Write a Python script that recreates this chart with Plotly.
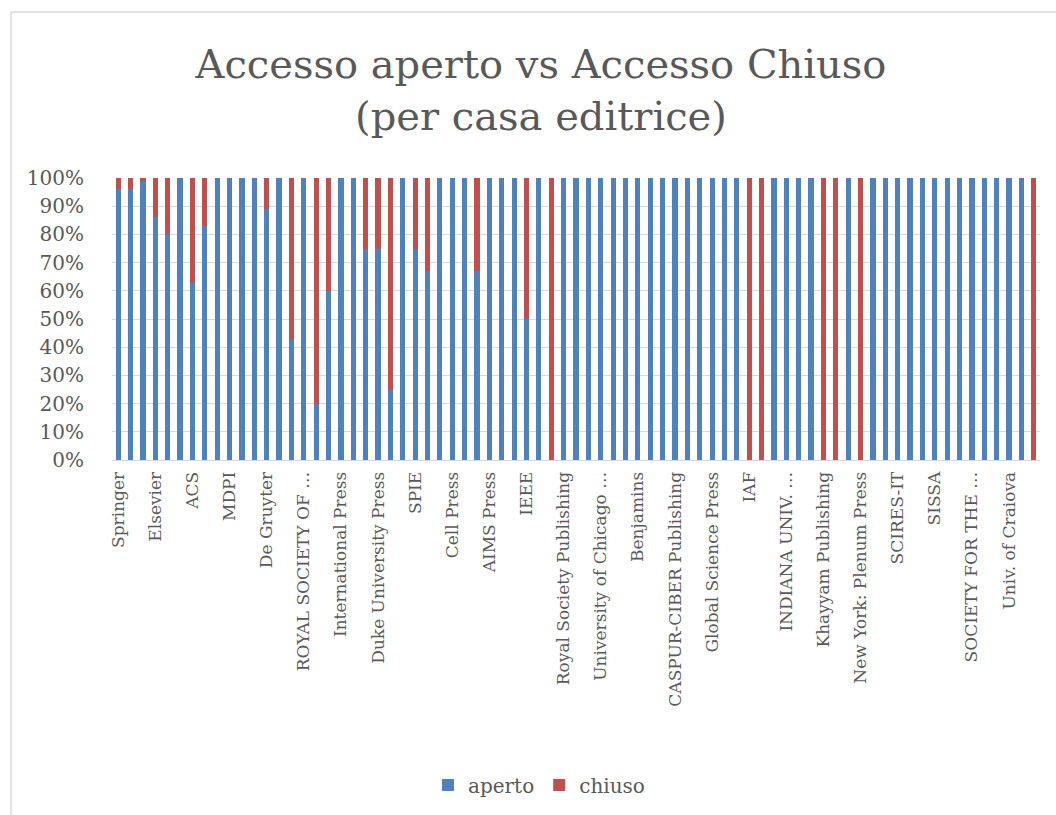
import plotly.graph_objects as go

# Percent share per publisher (75 publishers, only every third is labelled on the axis)
aperto = [96, 96, 99, 86, 80, 100, 63, 83, 100, 100, 100, 100, 89, 100, 43, 100, 20, 60,
          100, 100, 75, 75, 25, 100, 75, 67, 100, 100, 100, 67, 100, 100, 100, 50, 100, 0,
          100, 100, 100, 100, 100, 100, 100, 100, 100, 100, 100, 100, 100, 100, 100, 0, 0,
          100, 100, 100, 100, 0, 0, 100, 0, 100, 100, 100, 100, 100, 100, 100, 100, 100,
          100, 100, 100, 100, 0]
chiuso = [4, 4, 1, 14, 20, 0, 37, 17, 0, 0, 0, 0, 11, 0, 57, 0, 80, 40,
          0, 0, 25, 25, 75, 0, 25, 33, 0, 0, 0, 33, 0, 0, 0, 50, 0, 100,
          0, 0, 0, 0, 0, 0, 0, 0, 0, 0, 0, 0, 0, 0, 0, 100, 100,
          0, 0, 0, 0, 100, 100, 0, 100, 0, 0, 0, 0, 0, 0, 0, 0, 0,
          0, 0, 0, 0, 100]
publisher_index = list(range(len(aperto)))

tick_positions = list(range(0, 75, 3))
tick_labels = ["Springer", "Elsevier", "ACS", "MDPI", "De Gruyter", "ROYAL SOCIETY OF …",
               "International Press", "Duke University Press", "SPIE", "Cell Press",
               "AIMS Press", "IEEE", "Royal Society Publishing", "University of Chicago …",
               "Benjamins", "CASPUR-CIBER Publishing", "Global Science Press", "IAF",
               "INDIANA UNIV. …", "Khayyam Publishing", "New York: Plenum Press",
               "SCIRES-IT", "SISSA", "SOCIETY FOR THE …", "Univ. of Craiova"]
y_ticks = [0, 10, 20, 30, 40, 50, 60, 70, 80, 90, 100]
y_tick_labels = [f"{v}%" for v in y_ticks]

FONT = "DejaVu Serif"
GREY = "#595959"

fig = go.Figure()
fig.add_trace(go.Bar(x=publisher_index, y=aperto, name="aperto", marker_color="#4f81bd",
                     marker_line_width=0))
fig.add_trace(go.Bar(x=publisher_index, y=chiuso, name="chiuso", marker_color="#c0504d",
                     marker_line_width=0))

W, H = 1056, 815
L, R, T, B = 112, 16, 178, 355

fig.update_layout(
    width=W, height=H,
    barmode="stack", bargap=0.58,
    paper_bgcolor="white", plot_bgcolor="white",
    margin=dict(l=L, r=R, t=T, b=B, autoexpand=False),
    font=dict(family=FONT, color=GREY, size=17),
    title=dict(text="Accesso aperto vs Accesso Chiuso<br>(per casa editrice)",
               x=541 / W, xanchor="center", xref="container",
               y=1 - 78 / H, yanchor="middle", yref="container",
               font=dict(family=FONT, size=40, color=GREY)),
    xaxis=dict(range=[-0.5, 74.5], tickmode="array", tickvals=tick_positions,
               ticktext=tick_labels, tickangle=-90, showgrid=False,
               showline=True, linecolor="#d9d9d9", linewidth=1, ticks="",
               ticklabelstandoff=4,
               tickfont=dict(size=17, color=GREY), automargin=False),
    yaxis=dict(range=[0, 100], tickmode="array", tickvals=y_ticks, ticktext=y_tick_labels,
               showgrid=True, gridcolor="#d9d9d9", gridwidth=1, zeroline=False,
               showline=False, ticks="", ticklabelstandoff=27,
               tickfont=dict(size=20, color=GREY), automargin=False),
    legend=dict(orientation="h", x=428 / W, xanchor="left", xref="container",
                y=1 - 785 / H, yanchor="middle", yref="container",
                font=dict(size=20, color=GREY), itemwidth=30, traceorder="normal"),
    shapes=[dict(type="rect", xref="paper", yref="paper",
                 x0=-(L - 11) / (W - L - R), x1=1 + 20 / (W - L - R),
                 y0=-(B + 20) / (H - T - B), y1=1 + (T - 12) / (H - T - B),
                 line=dict(color="#d9d9d9", width=1.5), layer="below")],
)

fig.write_html("out.html")
